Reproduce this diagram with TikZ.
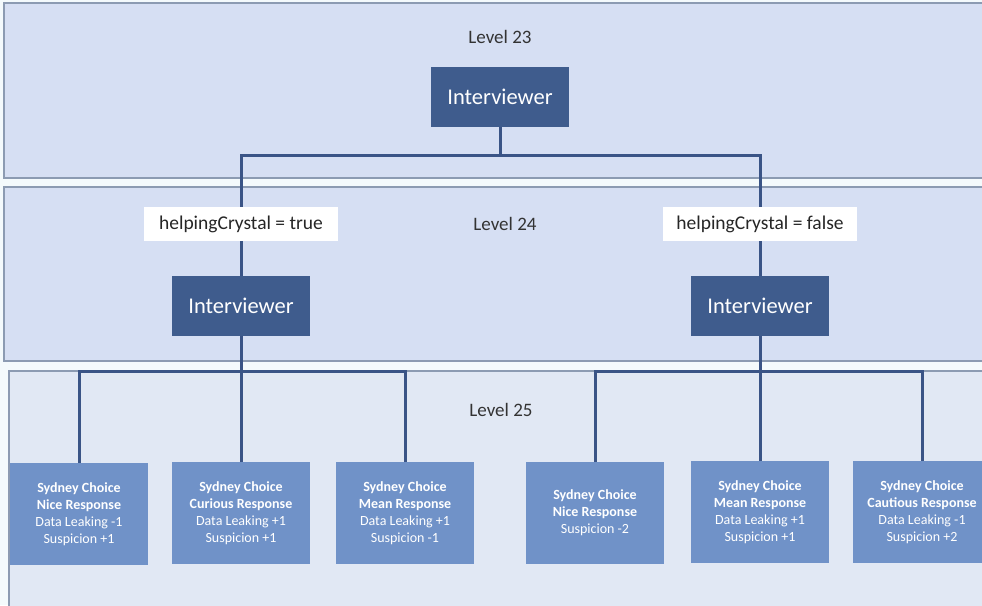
\documentclass[tikz,border=0pt]{standalone}
\usepackage{fontspec}
\setmainfont{Carlito}
\definecolor{bandblue}{RGB}{214,223,243}
\definecolor{bandpale}{RGB}{225,232,244}
\definecolor{bandline}{RGB}{140,155,178}
\definecolor{boxdark}{RGB}{63,92,141}
\definecolor{boxleaf}{RGB}{112,146,200}
\definecolor{linkblue}{RGB}{58,84,134}
\tikzset{
  band/.style={draw=bandline, line width=1.5pt},
  level/.style={text=black!80, font=\fontsize{19}{22}\selectfont},
  interviewer/.style={fill=boxdark, text=white, minimum width=138pt, minimum height=60pt, inner sep=0pt, font=\fontsize{22.5}{26}\selectfont},
  cond/.style={fill=white, text=black!85, minimum width=194pt, minimum height=34pt, inner sep=0pt, font=\fontsize{19.5}{22}\selectfont},
  leaf/.style={fill=boxleaf, text=white, minimum width=138pt, minimum height=102pt, inner sep=0pt, align=center, font=\fontsize{14}{17}\selectfont},
  link/.style={draw=linkblue, line width=3pt}
}
\begin{document}
\begin{tikzpicture}[x=1pt, y=-1pt]
  \useasboundingbox[fill={rgb,255:red,244;green,250;blue,252}] (0,0) rectangle (982,605);

  % the three levels
  \draw[band, fill=bandblue] (4,3) rectangle (995,178);
  \draw[band, fill=bandblue] (4,187) rectangle (995,361);
  \draw[band, fill=bandpale] (9,371) rectangle (995,620);

  \node[level] (lvl23) at (500,37) {Level 23};
  \node[level] (lvl24) at (505,224) {Level 24};
  \node[level] (lvl25) at (501,410) {Level 25};

  % level 23
  \node[interviewer] (root) at (500,97) {Interviewer};
  \coordinate (bus1) at (500,155);

  % level 24
  \node[cond] (condT) at (241,224) {helpingCrystal = true};
  \node[cond] (condF) at (760,224) {helpingCrystal = false};
  \node[interviewer] (intT) at (241,306) {Interviewer};
  \node[interviewer] (intF) at (760,306) {Interviewer};
  \coordinate (busT) at (241,371);
  \coordinate (busF) at (760,371);

  % level 25
  \node[leaf] (leafA) at (79,514) {\textbf{Sydney Choice}\\\textbf{Nice Response}\\Data Leaking -1\\Suspicion +1};
  \node[leaf] (leafB) at (241,513) {\textbf{Sydney Choice}\\\textbf{Curious Response}\\Data Leaking +1\\Suspicion +1};
  \node[leaf] (leafC) at (405,513) {\textbf{Sydney Choice}\\\textbf{Mean Response}\\Data Leaking +1\\Suspicion -1};
  \node[leaf] (leafD) at (595,513) {\textbf{Sydney Choice}\\\textbf{Nice Response}\\Suspicion -2};
  \node[leaf] (leafE) at (760,512) {\textbf{Sydney Choice}\\\textbf{Mean Response}\\Data Leaking +1\\Suspicion +1};
  \node[leaf] (leafF) at (922,512) {\textbf{Sydney Choice}\\\textbf{Cautious Response}\\Data Leaking -1\\Suspicion +2};

  \draw[link] (root.south) -- (bus1);
  \draw[link] (bus1) -| (condT.north);
  \draw[link] (bus1) -| (condF.north);
  \draw[link] (condT.south) -- (intT.north);
  \draw[link] (condF.south) -- (intF.north);

  \draw[link] (intT.south) -- (busT);
  \draw[link] (busT) -| (leafA.north);
  \draw[link] (busT) -- (leafB.north);
  \draw[link] (busT) -| (leafC.north);

  \draw[link] (intF.south) -- (busF);
  \draw[link] (busF) -| (leafD.north);
  \draw[link] (busF) -- (leafE.north);
  \draw[link] (busF) -| (leafF.north);
\end{tikzpicture}
\end{document}
